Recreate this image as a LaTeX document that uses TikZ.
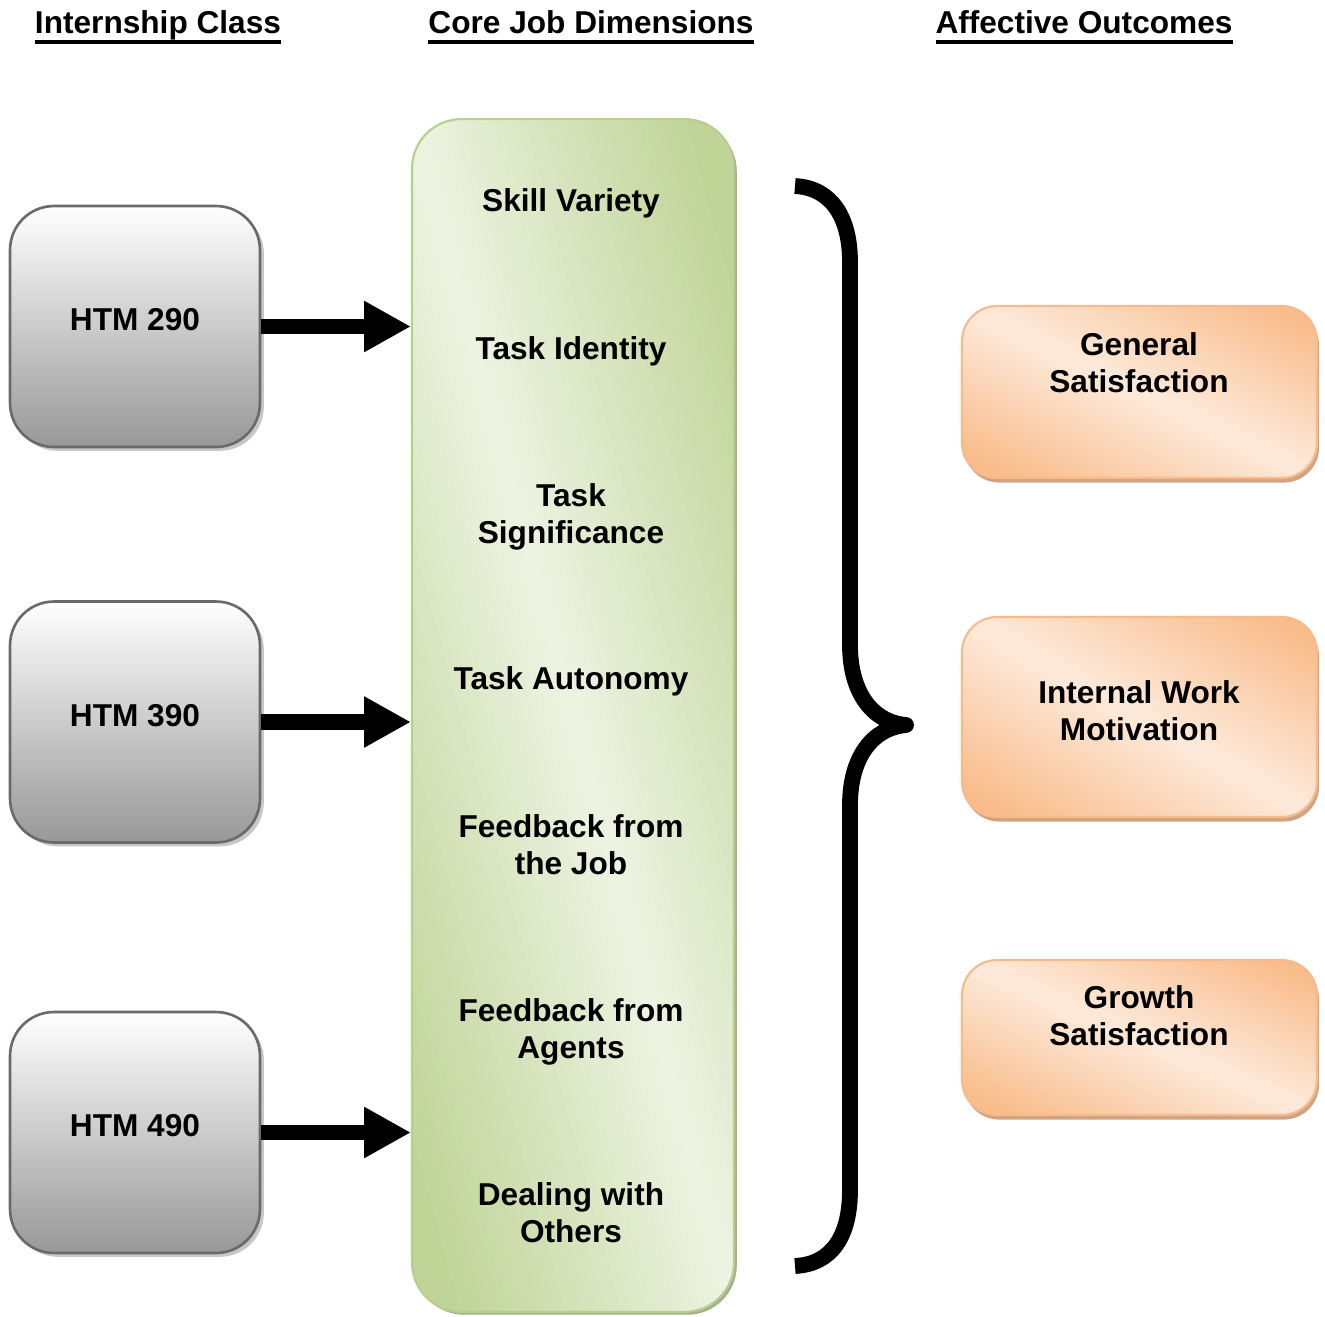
\documentclass[tikz,border=0pt]{standalone}
\usepackage{fontspec}
\setmainfont{Liberation Sans}
\usetikzlibrary{arrows.meta,shadows,calc}
\definecolor{grayedge}{HTML}{6A6A6A}
\definecolor{graybot}{HTML}{989898}
\definecolor{greenedge}{HTML}{B6CF8D}
\definecolor{greendark}{HTML}{C0D497}
\definecolor{greenlight}{HTML}{EDF3E2}
\definecolor{greenshade}{HTML}{A4B28C}
\definecolor{orangeedge}{HTML}{F8BA8A}
\definecolor{orangedark}{HTML}{F9BC8A}
\definecolor{orangelight}{HTML}{FDEADB}
\definecolor{orangeshade}{HTML}{CFA484}
% heading with a heavy underline
\newcommand{\headtext}[1]{\setbox0\hbox{#1}\rlap{\usebox0}\rule[-6.1pt]{\wd0}{2pt}}
\tikzset{
  lbl/.style={anchor=north,inner sep=0pt,align=center,font=\bfseries\fontsize{18}{21}\selectfont},
  % diagonal fill: dark in two corners, light along the other diagonal
  diagshade/.style 2 args={path picture={
    \coordinate (pnw) at (path picture bounding box.north west);
    \coordinate (pne) at (path picture bounding box.north east);
    \coordinate (psw) at (path picture bounding box.south west);
    \foreach \k in {-1.1,-1.075,...,1.08} {
      \pgfmathsetmacro\pct{min(100,abs(\k+0.0125)*115)}
      \pgfmathsetmacro\sa{\k-0.1}
      \pgfmathsetmacro\sb{\k+1.1}
      \pgfmathsetmacro\sc{\k+1.14}
      \pgfmathsetmacro\sd{\k-0.06}
      \fill[#1!\pct!#2] ($(pnw)!\sa!(pne)+(pnw)!-0.1!(psw)-(pnw)$) -- ($(pnw)!\sb!(pne)+(pnw)!1.1!(psw)-(pnw)$)
        -- ($(pnw)!\sc!(pne)+(pnw)!1.1!(psw)-(pnw)$) -- ($(pnw)!\sd!(pne)+(pnw)!-0.1!(psw)-(pnw)$) -- cycle;
    }}},
  classbox/.style={draw=grayedge,line width=1.5pt,rounded corners=25pt,
    top color=white,bottom color=graybot,
    minimum width=5cm,minimum height=4.82cm,
    general shadow={fill=black!22,shadow xshift=2.2pt,shadow yshift=-2.2pt}},
  corebox/.style={draw=greenedge,line width=1.2pt,rounded corners=28pt,
    diagshade={greendark}{greenlight},
    minimum width=6.44cm,minimum height=23.86cm,
    general shadow={fill=greenshade,shadow xshift=1.6pt,shadow yshift=-1.6pt}},
  outbox/.style={draw=orangeedge,line width=1.2pt,rounded corners=20pt,
    diagshade={orangedark}{orangelight},
    minimum width=7.1cm,
    general shadow={fill=orangeshade,shadow xshift=1.2pt,shadow yshift=-2.6pt}},
  classarrow/.style={line width=9pt,-{Triangle[length=26.6pt,width=27.2pt]}}
}
\begin{document}
\begin{tikzpicture}[x=0.02cm,y=-0.02cm]
  \useasboundingbox (0,0) rectangle (1325,1316);

  % Headings
  \node[lbl] (hclass) at (158,10) {\headtext{Internship Class}};
  \node[lbl] (hcore) at (591,10) {\headtext{Core Job Dimensions}};
  \node[lbl] (hout) at (1084,10) {\headtext{Affective Outcomes}};

  % Internship classes
  \node[classbox] (htm290) at (135,326.5) {};
  \node[classbox] (htm390) at (135,722) {};
  \node[classbox] (htm490) at (135,1132.5) {};
  \node[lbl] (l290) at (135,308) {HTM 290};
  \node[lbl] (l390) at (135,704) {HTM 390};
  \node[lbl] (l490) at (135,1114) {HTM 490};

  % Core job dimensions
  \node[corebox] (core) at (573,715.5) {};
  \node[lbl] (skill) at (571,188) {Skill Variety};
  \node[lbl] (ident) at (571,336) {Task Identity};
  \node[lbl] (signif) at (571,483) {Task\\Significance};
  \node[lbl] (auton) at (571,666) {Task Autonomy};
  \node[lbl] (fbjob) at (571,814) {Feedback from\\the Job};
  \node[lbl] (fbagent) at (571,998) {Feedback from\\Agents};
  \node[lbl] (dealing) at (571,1182) {Dealing with\\Others};

  % Affective outcomes
  \node[outbox,minimum height=3.44cm] (gensat) at (1139.5,392) {};
  \node[outbox,minimum height=4cm] (intmot) at (1139.5,717) {};
  \node[outbox,minimum height=3.1cm] (growsat) at (1139.5,1037.5) {};
  \node[lbl] (lgensat) at (1139,332) {General\\Satisfaction};
  \node[lbl] (lintmot) at (1139,680) {Internal Work\\Motivation};
  \node[lbl] (lgrowsat) at (1139,985) {Growth\\Satisfaction};

  % Arrows
  \draw[classarrow] (htm290.east) -- (htm290.east -| core.west);
  \draw[classarrow] (htm390.east) -- (htm390.east -| core.west);
  \draw[classarrow] (htm490.east) -- (htm490.east -| core.west);

  % Brace
  \draw[line width=9pt,line join=round] (795,186) .. controls (832,188) and (850,218) .. (850,262)
    -- (850,645) .. controls (850,692) and (872,722) .. (906,725)
    .. controls (872,728) and (850,758) .. (850,805)
    -- (850,1190) .. controls (850,1236) and (832,1264) .. (795,1266);
\end{tikzpicture}
\end{document}
